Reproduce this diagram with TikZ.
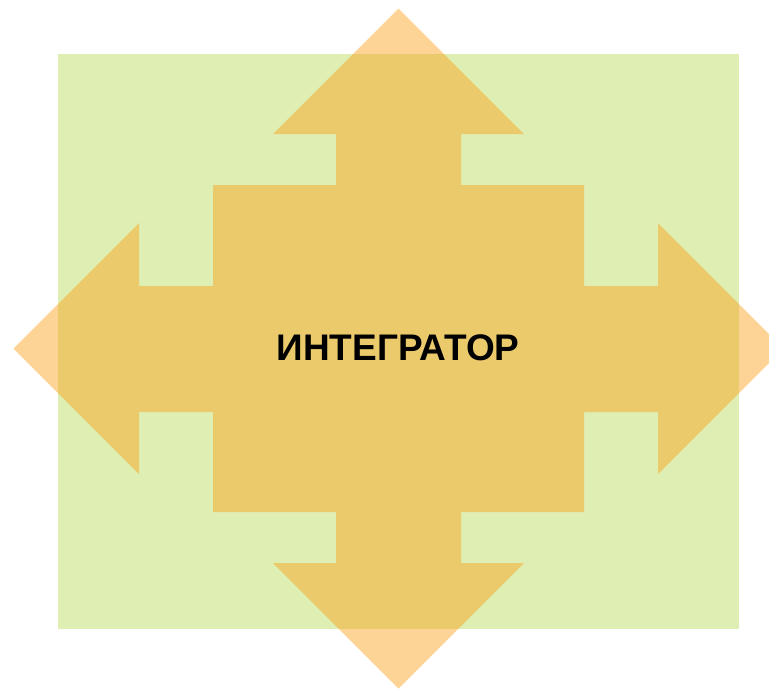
\documentclass[tikz,border=0pt]{standalone}
\usepackage{fontspec}
\setmainfont{Liberation Sans}
\usepackage{tikz}
\definecolor{panelgreen}{RGB}{223,238,179}
\definecolor{crossorange}{RGB}{251,160,22}

\begin{document}
\begin{tikzpicture}[x=1pt, y=-1pt]
\useasboundingbox (0,0) rectangle (769,689);

\fill[panelgreen] (58,54) rectangle (739,629);

\fill[crossorange, fill opacity=0.45]
  (398.5,8.5) -- (524,134) -- (461,134) -- (461,185) -- (584,185) -- (584,286)
  -- (658,286) -- (658,223) -- (783.5,348.5) -- (658,474) -- (658,412)
  -- (584,412) -- (584,512) -- (461,512) -- (461,563) -- (524,563)
  -- (398.5,688.5) -- (273,563) -- (336,563) -- (336,512) -- (213,512)
  -- (213,412) -- (139,412) -- (139,474) -- (13.5,348.5) -- (139,223)
  -- (139,286) -- (213,286) -- (213,185) -- (336,185) -- (336,134)
  -- (273,134) -- cycle;

\node[font=\fontsize{37}{44}\selectfont\bfseries] (title) at (398,348) {ИНТЕГРАТОР};
\end{tikzpicture}
\end{document}
